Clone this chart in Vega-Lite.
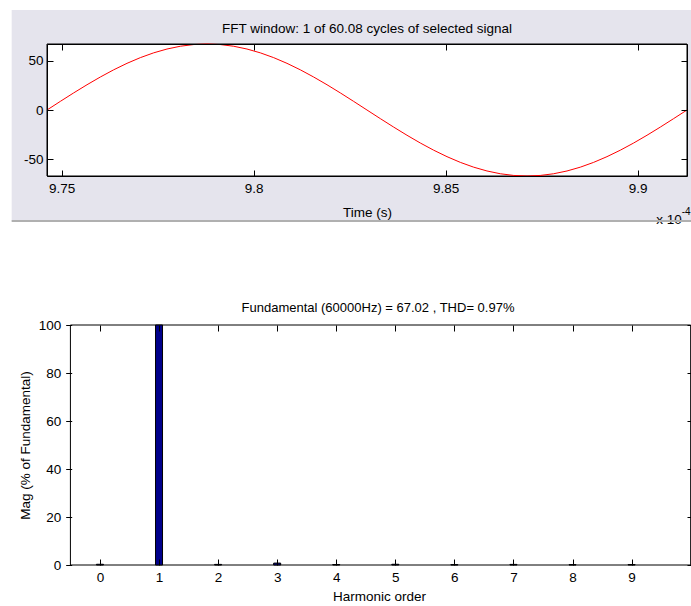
{
  "$schema": "https://vega.github.io/schema/vega-lite/v6.json",
  "background": "white",
  "padding": {"left": 10, "top": 10, "right": 0, "bottom": 0},
  "spacing": 75,
  "config": {
    "font": "Liberation Sans",
    "view": {"stroke": null},
    "title": {"font": "Liberation Sans", "fontSize": 13.5, "fontWeight": "normal", "color": "black", "frame": "group"},
    "axis": {
      "grid": false, "domainColor": "black", "domainWidth": 1,
      "tickColor": "black", "tickSize": -6, "tickWidth": 1,
      "labelFont": "Liberation Sans", "labelFontSize": 13.5, "labelColor": "black",
      "titleFont": "Liberation Sans", "titleFontSize": 13.5, "titleFontWeight": "normal", "titleColor": "black",
      "labelFlush": false, "labelOverlap": false, "minExtent": 0
    }
  },
  "vconcat": [
    {
      "width": 640,
      "height": 132,
      "title": {"text": "FFT window: 1 of 60.08 cycles of selected signal", "offset": -25},
      "data": {"values": [
        {"t": 9.74620, "v": 0},
        {"t": 9.74967, "v": 8.75},
        {"t": 9.75314, "v": 17.35},
        {"t": 9.75662, "v": 25.65},
        {"t": 9.76009, "v": 33.51},
        {"t": 9.76356, "v": 40.80},
        {"t": 9.76703, "v": 47.39},
        {"t": 9.77051, "v": 53.17},
        {"t": 9.77398, "v": 58.04},
        {"t": 9.77745, "v": 61.92},
        {"t": 9.78092, "v": 64.74},
        {"t": 9.78439, "v": 66.45},
        {"t": 9.78786, "v": 67.02},
        {"t": 9.79134, "v": 66.45},
        {"t": 9.79481, "v": 64.74},
        {"t": 9.79828, "v": 61.92},
        {"t": 9.80175, "v": 58.04},
        {"t": 9.80523, "v": 53.17},
        {"t": 9.80870, "v": 47.39},
        {"t": 9.81217, "v": 40.80},
        {"t": 9.81564, "v": 33.51},
        {"t": 9.81912, "v": 25.65},
        {"t": 9.82259, "v": 17.35},
        {"t": 9.82606, "v": 8.75},
        {"t": 9.82953, "v": 0},
        {"t": 9.83300, "v": -8.75},
        {"t": 9.83648, "v": -17.35},
        {"t": 9.83995, "v": -25.65},
        {"t": 9.84342, "v": -33.51},
        {"t": 9.84689, "v": -40.80},
        {"t": 9.85037, "v": -47.39},
        {"t": 9.85384, "v": -53.17},
        {"t": 9.85731, "v": -58.04},
        {"t": 9.86078, "v": -61.92},
        {"t": 9.86425, "v": -64.74},
        {"t": 9.86773, "v": -66.45},
        {"t": 9.87120, "v": -67.02},
        {"t": 9.87467, "v": -66.45},
        {"t": 9.87814, "v": -64.74},
        {"t": 9.88162, "v": -61.92},
        {"t": 9.88509, "v": -58.04},
        {"t": 9.88856, "v": -53.17},
        {"t": 9.89203, "v": -47.39},
        {"t": 9.89551, "v": -40.80},
        {"t": 9.89898, "v": -33.51},
        {"t": 9.90245, "v": -25.65},
        {"t": 9.90592, "v": -17.35},
        {"t": 9.90939, "v": -8.75},
        {"t": 9.91287, "v": 0}
      ]},
      "resolve": {"axis": {"x": "independent", "y": "independent"}},
      "layer": [
        {
          "data": {"values": [{}]},
          "mark": {"type": "rect", "fill": "#e5e4ed"},
          "encoding": {
            "x": {"datum": 9.7370, "type": "quantitative", "axis": null},
            "x2": {"datum": 9.935},
            "y": {"datum": 101.5, "type": "quantitative", "axis": null},
            "y2": {"datum": -113.2}
          }
        },
        {
          "data": {"values": [{}]},
          "mark": {"type": "rect", "fill": "white", "stroke": "black", "strokeWidth": 1},
          "encoding": {
            "x": {"datum": 9.7462, "type": "quantitative", "axis": null},
            "x2": {"datum": 9.91287},
            "y": {"datum": 67.02, "type": "quantitative", "axis": null},
            "y2": {"datum": -67.02}
          }
        },
        {
          "data": {"values": [{}]},
          "mark": {"type": "text", "text": "x 10", "align": "right", "baseline": "alphabetic", "fontSize": 13.5, "color": "black"},
          "encoding": {
            "x": {"datum": 9.9115, "type": "quantitative", "axis": null},
            "y": {"datum": -116.2, "type": "quantitative", "axis": null}
          }
        },
        {
          "data": {"values": [{}]},
          "mark": {"type": "text", "text": "-4", "align": "left", "baseline": "alphabetic", "fontSize": 10, "dy": -9, "color": "black"},
          "encoding": {
            "x": {"datum": 9.9115, "type": "quantitative", "axis": null},
            "y": {"datum": -116.2, "type": "quantitative", "axis": null}
          }
        },
        {
          "data": {"values": [{}]},
          "mark": {"type": "rule", "stroke": "#b0b0b0", "strokeWidth": 2},
          "encoding": {
            "x": {"datum": 9.7370, "type": "quantitative", "axis": null},
            "x2": {"datum": 9.935},
            "y": {"datum": -112.7, "type": "quantitative", "axis": null}
          }
        },
        {
          "mark": {"type": "line", "stroke": "#ff0000", "strokeWidth": 1},
          "encoding": {
            "x": {"field": "t", "type": "quantitative",
                  "scale": {"domain": [9.7462, 9.91287], "nice": false, "zero": false},
                  "axis": {"orient": "bottom", "zindex": 1, "title": "Time (s)", "values": [9.75, 9.8, 9.85, 9.9], "format": "~f", "labelPadding": 11, "titlePadding": 10.5}},
            "y": {"field": "v", "type": "quantitative",
                  "scale": {"domain": [-67.02, 67.02], "nice": false, "zero": false},
                  "axis": {"orient": "left", "zindex": 1, "title": null, "values": [-50, 0, 50], "labelExpr": "'' + datum.value", "labelPadding": 10}}
          }
        },
        {
          "mark": {"type": "line", "strokeOpacity": 0},
          "encoding": {
            "x": {"field": "t", "type": "quantitative",
                  "axis": {"orient": "top", "zindex": 1, "title": null, "labels": false, "values": [9.75, 9.8, 9.85, 9.9]}},
            "y": {"field": "v", "type": "quantitative",
                  "axis": {"orient": "right", "zindex": 1, "title": null, "labels": false, "values": [-50, 0, 50]}}
          }
        }
      ]
    },
    {
      "width": 646,
      "height": 240,
      "title": {"text": "Fundamental (60000Hz) = 67.02 , THD= 0.97%", "offset": 3, "dx": 8, "fontSize": 13},
      "data": {"values": [
        {"h": 0, "mag": 0.3},
        {"h": 1, "mag": 100},
        {"h": 2, "mag": 0.25},
        {"h": 3, "mag": 0.8},
        {"h": 4, "mag": 0.2},
        {"h": 5, "mag": 0.3},
        {"h": 6, "mag": 0.15},
        {"h": 7, "mag": 0.25},
        {"h": 8, "mag": 0.15},
        {"h": 9, "mag": 0.2}
      ]},
      "resolve": {"axis": {"x": "independent", "y": "independent"}},
      "layer": [
        {
          "data": {"values": [{}]},
          "mark": {"type": "rect", "fill": "white", "fillOpacity": 0, "stroke": "black", "strokeWidth": 1},
          "encoding": {
            "x": {"datum": -0.5, "type": "quantitative", "axis": null},
            "x2": {"datum": 10},
            "y": {"datum": 0, "type": "quantitative", "axis": null},
            "y2": {"datum": 100}
          }
        },
        {
          "mark": {"type": "bar", "size": 7, "fill": "#00008b", "stroke": "black", "strokeWidth": 1},
          "encoding": {
            "x": {"field": "h", "type": "quantitative",
                  "scale": {"domain": [-0.8117, 9.955], "nice": false, "zero": false},
                  "axis": {"orient": "bottom", "zindex": 1, "domain": false, "title": "Harmonic order", "titleX": 332, "values": [0,1,2,3,4,5,6,7,8,9], "labelPadding": 11, "titlePadding": 6}},
            "y": {"field": "mag", "type": "quantitative",
                  "scale": {"domain": [0, 100], "nice": false},
                  "axis": {"orient": "left", "zindex": 1, "domain": false, "offset": -18.7, "title": "Mag (% of Fundamental)", "values": [0,20,40,60,80,100], "labelPadding": 11, "titlePadding": 6}}
          }
        },
        {
          "mark": {"type": "bar", "size": 7, "opacity": 0},
          "encoding": {
            "x": {"field": "h", "type": "quantitative",
                  "axis": {"orient": "top", "zindex": 1, "domain": false, "title": null, "labels": false, "values": [0,1,2,3,4,5,6,7,8,9]}},
            "y": {"field": "mag", "type": "quantitative",
                  "axis": {"orient": "right", "zindex": 1, "domain": false, "title": null, "labels": false, "values": [0,20,40,60,80,100]}}
          }
        }
      ]
    }
  ]
}
